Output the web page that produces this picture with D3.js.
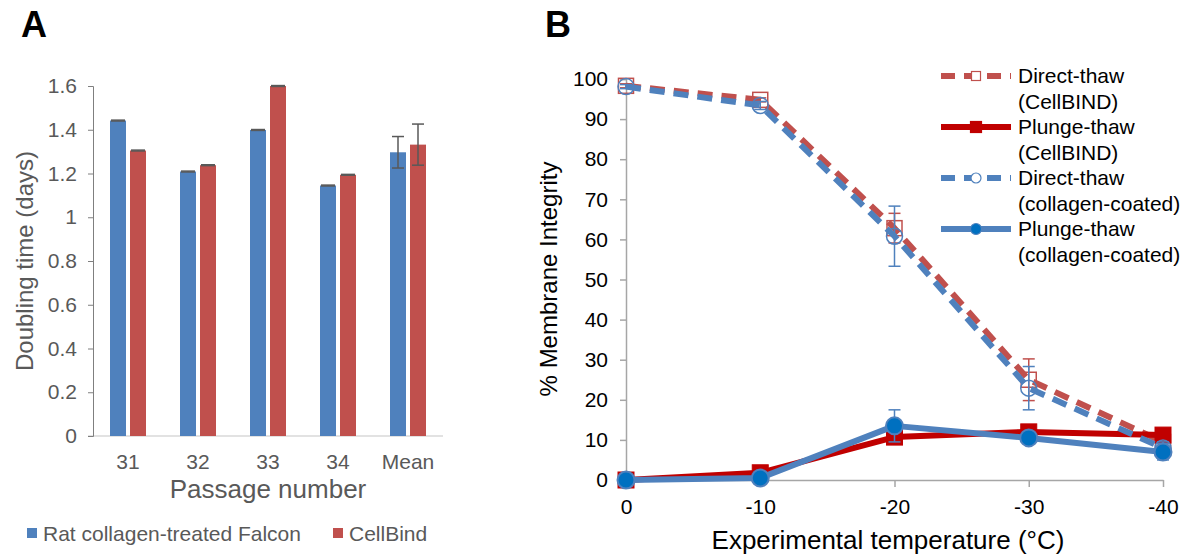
<!DOCTYPE html>
<html>
<head>
<meta charset="utf-8">
<script src="https://cdn.jsdelivr.net/npm/d3@7"></script>
<style>
  body { margin: 0; background: #fff; }
  text { font-family: "Liberation Sans", Arial, sans-serif; }
</style>
</head>
<body>
<script>
// panel A data ----------------------------------------------------------
var passages = ["31", "32", "33", "34", "Mean"];
var falcon = [1.442, 1.209, 1.399, 1.145, 1.297];
var falconErr = [0.002, 0.002, 0.002, 0.002, 0.072];
var cellbind = [1.305, 1.238, 1.600, 1.194, 1.332];
var cellbindErr = [0.002, 0.002, 0.002, 0.002, 0.094];
var aTicks = [0, 0.2, 0.4, 0.6, 0.8, 1, 1.2, 1.4, 1.6];

// panel B data ----------------------------------------------------------
var temps = [0, -10, -20, -30, -40];
var directCellBIND = [98.3, 94.8, 62.8, 25.0, 9.5];
var directCellBINDErr = [0.5, 0.5, 3.7, 5.2, 1.0];
var plungeCellBIND = [0, 1.8, 10.7, 12.0, 11.2];
var plungeCellBINDErr = [0, 0, 0, 0, 0];
var directCollagen = [98.1, 93.4, 60.8, 22.9, 8.0];
var directCollagenErr = [0.5, 1.0, 7.5, 5.4, 1.5];
var plungeCollagen = [0, 0.5, 13.5, 10.5, 7.0];
var plungeCollagenErr = [0, 0, 4.0, 1.5, 2.0];
var bTicks = [0, 10, 20, 30, 40, 50, 60, 70, 80, 90, 100];

var blue = "#4f81bd", red = "#c0504d", darkRed = "#c00000", deepBlue = "#0070c0";

var svg = d3.select("body").append("svg")
  .attr("width", 1199)
  .attr("height", 556);

// ======================= panel A =======================================
svg.append("text").attr("x", 21).attr("y", 37)
  .attr("font-size", "36px").attr("font-weight", "bold").text("A");

var xA = d3.scaleBand().domain(passages).range([93, 443]);
var yA = d3.scaleLinear().domain([0, 1.6]).range([436, 86]);
var barW = 16, barGap = 4;

var gA = svg.append("g");

// baseline
gA.append("line")
  .attr("x1", 88).attr("x2", 443)
  .attr("y1", yA(0)).attr("y2", yA(0))
  .attr("stroke", "#d9d9d9").attr("stroke-width", 1.5);

// y axis
var yAxisA = gA.append("g")
  .attr("transform", "translate(93,0)")
  .call(d3.axisLeft(yA).tickValues(aTicks).tickSize(5).tickPadding(11).tickFormat(d3.format("")));
yAxisA.select(".domain").attr("stroke", "#7f7f7f");
yAxisA.selectAll(".tick line").attr("stroke", "#7f7f7f");
yAxisA.selectAll("text").attr("font-size", "21px").attr("fill", "#595959")
  .attr("font-family", "Liberation Sans, Arial, sans-serif");

// bars
var seriesA = [
  { vals: falcon, err: falconErr, color: blue, off: -barGap / 2 - barW },
  { vals: cellbind, err: cellbindErr, color: red, off: barGap / 2 }
];
seriesA.forEach(function(s) {
  gA.selectAll(null)
    .data(passages)
    .enter()
    .append("rect")
    .attr("x", function(d) { return xA(d) + xA.bandwidth() / 2 + s.off; })
    .attr("y", function(d, i) { return yA(s.vals[i]); })
    .attr("width", barW)
    .attr("height", function(d, i) { return yA(0) - yA(s.vals[i]); })
    .attr("fill", s.color);

  // error bars
  passages.forEach(function(d, i) {
    var cx = xA(d) + xA.bandwidth() / 2 + s.off + barW / 2;
    var hi = yA(s.vals[i] + s.err[i]), lo = yA(s.vals[i] - s.err[i]);
    var cap = s.err[i] > 0.01 ? 6 : 7;
    gA.append("line").attr("x1", cx).attr("x2", cx).attr("y1", hi).attr("y2", lo)
      .attr("stroke", "#595959").attr("stroke-width", 1.5);
    [hi, lo].forEach(function(y) {
      gA.append("line").attr("x1", cx - cap).attr("x2", cx + cap).attr("y1", y).attr("y2", y)
        .attr("stroke", "#595959").attr("stroke-width", 1.5);
    });
  });
});

// x tick labels
gA.selectAll(null)
  .data(passages)
  .enter()
  .append("text")
  .attr("x", function(d) { return xA(d) + xA.bandwidth() / 2; })
  .attr("y", 469)
  .attr("text-anchor", "middle")
  .attr("font-size", "21px")
  .attr("fill", "#595959")
  .text(function(d) { return d; });

// axis titles
gA.append("text").attr("x", 268).attr("y", 498)
  .attr("text-anchor", "middle").attr("font-size", "26px").attr("fill", "#595959")
  .text("Passage number");
gA.append("text")
  .attr("transform", "translate(33,261) rotate(-90)")
  .attr("text-anchor", "middle").attr("font-size", "24px").attr("fill", "#595959")
  .text("Doubling time (days)");

// legend
var legA = [["Rat collagen-treated Falcon", blue, 27], ["CellBind", red, 333]];
legA.forEach(function(l) {
  gA.append("rect").attr("x", l[2]).attr("y", 528).attr("width", 10).attr("height", 10).attr("fill", l[1]);
  gA.append("text").attr("x", l[2] + 16).attr("y", 540.5)
    .attr("font-size", "21px").attr("fill", "#595959").text(l[0]);
});

// ======================= panel B =======================================
svg.append("text").attr("x", 545).attr("y", 37)
  .attr("font-size", "36px").attr("font-weight", "bold").text("B");

var xB = d3.scaleLinear().domain([0, -40]).range([626, 1163]);
var yB = d3.scaleLinear().domain([0, 100]).range([480, 79]);
var gB = svg.append("g");

var yAxisB = gB.append("g")
  .attr("transform", "translate(626,0)")
  .call(d3.axisLeft(yB).tickValues(bTicks).tickSize(6).tickPadding(12));
yAxisB.select(".domain").attr("stroke", "#a6a6a6").attr("stroke-width", 1.5);
yAxisB.selectAll(".tick line").attr("stroke", "#a6a6a6").attr("stroke-width", 1.5);
yAxisB.selectAll("text").attr("font-size", "21px").attr("fill", "#000")
  .attr("font-family", "Liberation Sans, Arial, sans-serif");

var xAxisB = gB.append("g")
  .attr("transform", "translate(0,480)")
  .call(d3.axisBottom(xB).tickValues(temps).tickSize(7).tickPadding(12).tickSizeOuter(0));
xAxisB.select(".domain").attr("stroke", "#a6a6a6").attr("stroke-width", 1.5);
xAxisB.selectAll(".tick line").attr("stroke", "#a6a6a6").attr("stroke-width", 1.5);
xAxisB.selectAll("text").attr("font-size", "21px").attr("fill", "#000")
  .attr("font-family", "Liberation Sans, Arial, sans-serif")
  .text(function(d) { return d3.format("")(d).replace("−", "-"); });

gB.append("text").attr("x", 888).attr("y", 549)
  .attr("text-anchor", "middle").attr("font-size", "26px").attr("fill", "#000")
  .text("Experimental temperature (°C)");
gB.append("text")
  .attr("transform", "translate(557,279) rotate(-90)")
  .attr("text-anchor", "middle").attr("font-size", "24px").attr("fill", "#000")
  .text("% Membrane Integrity");

var seriesB = [
  { name: "Direct-thaw", sub: "(CellBIND)", vals: directCellBIND, err: directCellBINDErr,
    line: red, dash: "15,9", marker: "square", fill: "#fff", mstroke: red, errColor: red },
  { name: "Plunge-thaw", sub: "(CellBIND)", vals: plungeCellBIND, err: plungeCellBINDErr,
    line: darkRed, dash: null, marker: "square", fill: darkRed, mstroke: darkRed, errColor: darkRed },
  { name: "Direct-thaw", sub: "(collagen-coated)", vals: directCollagen, err: directCollagenErr,
    line: blue, dash: "15,9", marker: "circle", fill: "#fff", mstroke: blue, errColor: blue },
  { name: "Plunge-thaw", sub: "(collagen-coated)", vals: plungeCollagen, err: plungeCollagenErr,
    line: blue, dash: null, marker: "circle", fill: deepBlue, mstroke: blue, errColor: blue }
];

var lineB = d3.line()
  .x(function(d, i) { return xB(temps[i]); })
  .y(function(d) { return yB(d); });

function drawMarker(g, s, x, y, open) {
  if (s.marker == "square") {
    var sz = open ? 15 : 16;
    g.append("rect").attr("x", x - sz / 2).attr("y", y - sz / 2).attr("width", sz).attr("height", sz)
      .attr("fill", s.fill).attr("fill-opacity", open ? 0 : 1)
      .attr("stroke", s.mstroke).attr("stroke-width", open ? 1.5 : 1);
  } else {
    g.append("circle").attr("cx", x).attr("cy", y).attr("r", open ? 8 : 8.5)
      .attr("fill", s.fill).attr("fill-opacity", open ? 0 : 1)
      .attr("stroke", s.mstroke).attr("stroke-width", open ? 1.5 : 2);
  }
}

seriesB.forEach(function(s) {
  var g = gB.append("g");
  g.append("path")
    .datum(s.vals)
    .attr("d", lineB)
    .attr("fill", "none")
    .attr("stroke", s.line)
    .attr("stroke-width", 6)
    .attr("stroke-linejoin", "round")
    .attr("stroke-dasharray", s.dash);
  // error bars
  s.vals.forEach(function(v, i) {
    if (s.err[i] <= 0) return;
    var x = xB(temps[i]), hi = yB(v + s.err[i]), lo = yB(v - s.err[i]);
    g.append("line").attr("x1", x).attr("x2", x).attr("y1", hi).attr("y2", lo)
      .attr("stroke", s.errColor).attr("stroke-width", 1.5);
    [hi, lo].forEach(function(y) {
      g.append("line").attr("x1", x - 6).attr("x2", x + 6).attr("y1", y).attr("y2", y)
        .attr("stroke", s.errColor).attr("stroke-width", 1.5);
    });
  });
  s.vals.forEach(function(v, i) {
    drawMarker(g, s, xB(temps[i]), yB(v), s.dash != null);
  });
});

// legend
seriesB.forEach(function(s, i) {
  var ly = 76 + i * 51;
  var g = gB.append("g");
  g.append("line").attr("x1", 941).attr("x2", 1011).attr("y1", ly).attr("y2", ly)
    .attr("stroke", s.line).attr("stroke-width", 6)
    .attr("stroke-dasharray", s.dash ? "14,9" : null);
  if (s.marker == "square") {
    var sz = s.dash ? 9 : 11;
    g.append("rect").attr("x", 976 - sz / 2).attr("y", ly - sz / 2).attr("width", sz).attr("height", sz)
      .attr("fill", s.dash ? "#fff" : s.fill).attr("stroke", s.mstroke).attr("stroke-width", 1.2);
  } else {
    g.append("circle").attr("cx", 976).attr("cy", ly).attr("r", s.dash ? 5 : 5.5)
      .attr("fill", s.dash ? "#fff" : s.fill).attr("stroke", s.mstroke).attr("stroke-width", 1.2);
  }
  g.append("text").attr("x", 1018).attr("y", ly + 7).attr("font-size", "21px").text(s.name);
  g.append("text").attr("x", 1018).attr("y", ly + 33).attr("font-size", "21px").text(s.sub);
});
</script>
</body>
</html>
